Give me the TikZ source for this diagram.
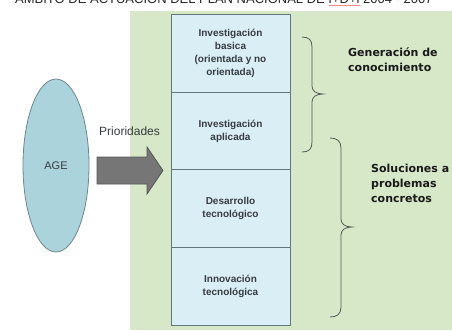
\documentclass[tikz,border=0pt]{standalone}
\usepackage{fontspec}
\setmainfont{Liberation Sans}
\newfontfamily\dejavu{DejaVu Sans}
\usetikzlibrary{shapes.geometric}
\definecolor{bggreen}{RGB}{214,232,200}
\definecolor{boxblue}{RGB}{218,238,246}
\definecolor{boxline}{RGB}{100,118,126}
\definecolor{agefill}{RGB}{170,211,220}
\definecolor{ageline}{RGB}{110,135,140}
\definecolor{arrfill}{RGB}{118,118,118}
\definecolor{arrline}{RGB}{85,85,85}
\definecolor{txtgray}{RGB}{55,60,65}
\definecolor{bracecol}{RGB}{85,90,85}
\tikzset{
  stackbox/.style={draw=boxline, line width=1pt, fill=boxblue, minimum width=119pt,
    minimum height=77.75pt, inner sep=0pt, align=center, text=txtgray,
    font=\fontsize{10}{13}\selectfont\bfseries},
  bracest/.style={draw=bracecol, line width=0.8pt},
  rightlbl/.style={anchor=base west, inner sep=0pt, align=left, text=black!90,
    font=\dejavu\fontsize{11}{15}\selectfont\bfseries},
}
\begin{document}
\begin{tikzpicture}[x=1pt,y=-1pt]
\useasboundingbox (0,0) rectangle (452,330);
\fill[bggreen] (130,11) rectangle (452,330);
% clipped title
\node[anchor=base west, inner sep=0pt, text=black!85, font=\fontsize{13}{13}\selectfont] (title) at (15,3)
  {ÁMBITO DE ACTUACIÓN DEL PLAN NACIONAL DE I+D+i 2004 - 2007};
\draw[red!45, line width=0.6pt] (329,5.2) -- (360,5.2);
% stack
\node[stackbox] (b1) at (230.5,53.25) {Investigación\\basica\\(orientada y no\\orientada)};
\node[stackbox] (b2) at (230.5,131) {Investigación\\aplicada};
\node[stackbox] (b3) at (230.5,208.75) {Desarrollo\\tecnológico};
\node[stackbox] (b4) at (230.5,286.5) {Innovación\\tecnológica};
% AGE
\node[ellipse, draw=ageline, line width=0.8pt, fill=agefill, minimum width=66pt, minimum height=173pt,
  inner sep=0pt, font=\fontsize{11}{13}\selectfont, text=txtgray] (age) at (56,165.5) {AGE};
% arrow
\draw[fill=arrfill, draw=arrline, line width=0.8pt]
  (97,157) -- (147,157) -- (147,147) -- (163,170.5) -- (147,194) -- (147,184) -- (97,184) -- cycle;
\node[anchor=base west, inner sep=0pt, text=txtgray, font=\fontsize{12}{12}\selectfont] (prio) at (99,135) {Prioridades};
% braces
\draw[bracest] (302,37) .. controls (309,37) and (312,40) .. (312,47) -- (312,86)
  .. controls (312,91) and (316,94) .. (323,94)
  .. controls (316,94) and (312,97) .. (312,102) -- (312,142)
  .. controls (312,149) and (309,152) .. (302,152);
\draw[bracest] (330,138) .. controls (337,138) and (341,141) .. (341,148) -- (341,219)
  .. controls (341,224) and (345,227) .. (352,227)
  .. controls (345,227) and (341,230) .. (341,235) -- (341,307)
  .. controls (341,314) and (337,317) .. (330,317);
\node[rightlbl] (gen) at (348,71) {Generación de\\conocimiento};
\node[rightlbl] (sol) at (371,202) {Soluciones a\\problemas\\concretos};
\end{tikzpicture}
\end{document}
